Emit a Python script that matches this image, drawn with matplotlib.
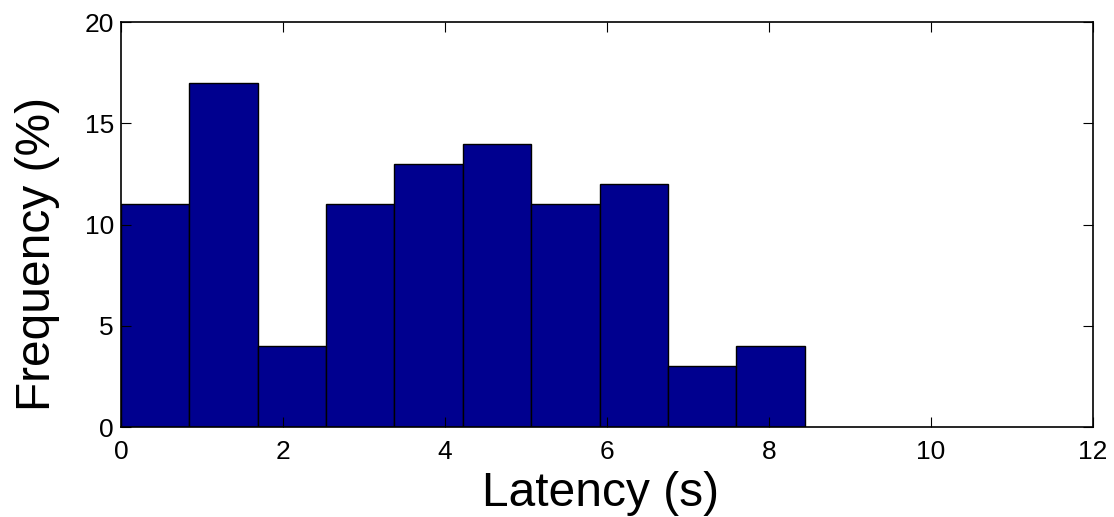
import numpy as np
import matplotlib.pyplot as plt

plt.rcParams['font.family'] = ['Liberation Sans', 'DejaVu Sans']

# histogram of latency, percent per bin
freq = [11, 17, 4, 11, 13, 14, 11, 12, 3, 4]
bin_lo = 0.0
bin_hi = 8.44
xticks = [0, 2, 4, 6, 8, 10, 12]
yticks = [0, 5, 10, 15, 20]

edges = np.linspace(bin_lo, bin_hi, len(freq) + 1)
width = edges[1] - edges[0]

fig = plt.figure(figsize=(11.14, 5.17), dpi=100)
ax = fig.add_axes([0.1086, 0.174, 0.8725, 0.783])
ax.bar(edges[:-1], freq, width=width, align='edge',
       color='#00008F', edgecolor='black', linewidth=1.0)

ax.set_xlim(0, 12)
ax.set_ylim(0, 20)
ax.set_xticks(xticks)
ax.set_yticks(yticks)
ax.tick_params(direction='in', length=7, width=0.8, labelsize=19,
               top=True, right=True)
ax.tick_params(axis='y', pad=5)
ax.tick_params(axis='x', pad=9)
for s in ax.spines.values():
    s.set_linewidth(1.2)

ax.set_xlabel('Latency (s)', fontsize=34.5)
ax.set_ylabel('Frequency (%)', fontsize=34.5)
ax.xaxis.set_label_coords(0.493, -0.109)
ax.yaxis.set_label_coords(-0.063, 0.427)

fig.savefig('out.png', dpi=100)
